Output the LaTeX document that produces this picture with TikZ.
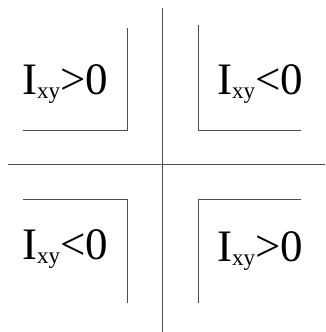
\documentclass[tikz,border=0pt]{standalone}
\usepackage{fontspec}
\setmainfont{Liberation Serif}

\begin{document}
\begin{tikzpicture}[
  x=1pt, y=-1pt,
  axis/.style={draw=black!70, line width=0.9pt},
  bracket/.style={draw=black!70, line width=0.9pt},
  lbl/.style={font=\fontsize{45}{48}\selectfont, inner sep=0pt}
]
\useasboundingbox (0,0) rectangle (325,332);

% axes
\draw[axis] (162,8) -- (162,332);
\draw[axis] (8,164) -- (325,164);

% corner brackets
\draw[bracket] (127,28) -- (127,130) -- (23,130);
\draw[bracket] (198,25) -- (198,130) -- (301,130);
\draw[bracket] (23,199) -- (127,199) -- (127,303);
\draw[bracket] (301,199) -- (198,199) -- (198,303);

% labels
\newcommand{\Ixy}[1]{I\raisebox{-0.1em}{\fontsize{23}{25}\selectfont xy}#10}
\node[lbl] (tl) at (65,84) {\Ixy{>}};
\node[lbl] (tr) at (260,84) {\Ixy{<}};
\node[lbl] (bl) at (65,249) {\Ixy{<}};
\node[lbl] (br) at (260,251) {\Ixy{>}};
\end{tikzpicture}
\end{document}
